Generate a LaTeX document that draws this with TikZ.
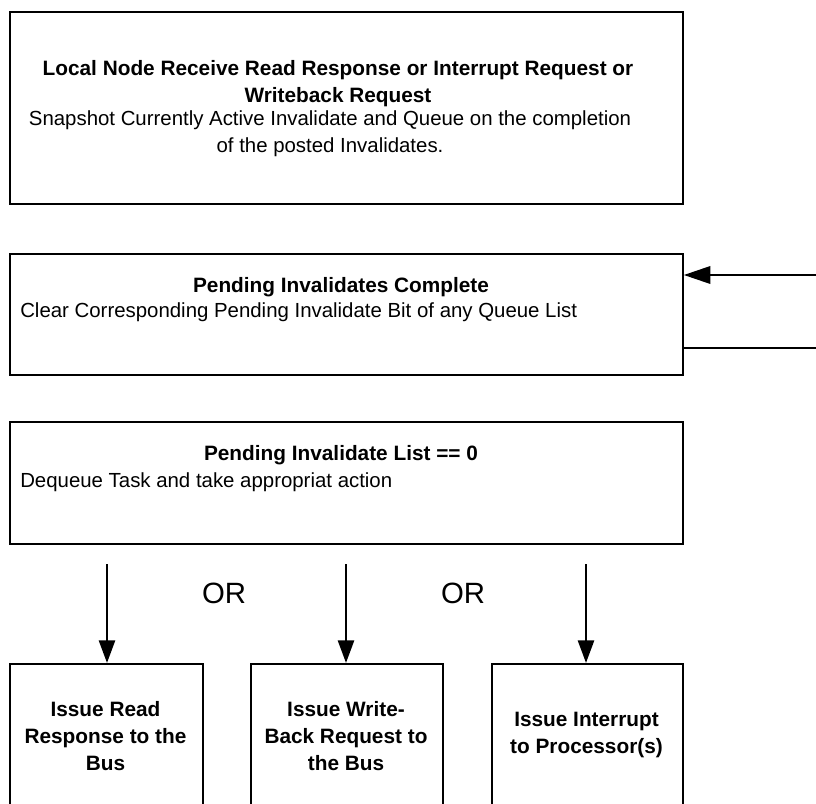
\documentclass[tikz,border=0pt]{standalone}
\usepackage{fontspec}
\setmainfont{Liberation Sans}
\usetikzlibrary{arrows.meta}
\begin{document}
\begin{tikzpicture}[x=0.75pt,y=-0.75pt,
  box/.style={draw,line width=1.3pt,rectangle,inner sep=0pt,anchor=north west},
  ttl/.style={font=\fontsize{15.6}{20.25}\selectfont\bfseries,align=center,inner sep=0pt},
  txt/.style={font=\fontsize{15.3}{20.25}\selectfont,inner sep=0pt},
  orlbl/.style={font=\fontsize{22}{26}\selectfont,inner sep=0pt},
  arr/.style={line width=2pt,-{Triangle[length=17pt,width=12pt]}},
  link/.style={line width=2pt}]
\useasboundingbox (0,0) rectangle (816,803);
\clip (0,0) rectangle (816,803);

% upper process blocks
\node[box,minimum width=673*0.75pt,minimum height=192*0.75pt] (recv) at (9,11) {};
\node[box,minimum width=673*0.75pt,minimum height=121*0.75pt] (done) at (9,253) {};
\node[box,minimum width=673*0.75pt,minimum height=122*0.75pt] (deq) at (9,421) {};

% action blocks (open towards the bottom edge)
\node[box,minimum width=193*0.75pt,minimum height=170*0.75pt] (rd) at (9,663) {};
\node[box,minimum width=192*0.75pt,minimum height=170*0.75pt] (wb) at (250,663) {};
\node[box,minimum width=191*0.75pt,minimum height=170*0.75pt] (intr) at (491,663) {};

% texts of the upper blocks
\node[ttl] (recvT) at (338,83.5) {Local Node Receive Read Response or Interrupt Request or\\Writeback Request};
\node[txt,align=center] (recvB) at (330,133.5) {Snapshot Currently Active Invalidate and Queue on the completion\\of the posted Invalidates.};
\node[ttl] (doneT) at (341,287) {Pending Invalidates Complete};
\node[txt,anchor=west] (doneB) at (20,312) {Clear Corresponding Pending Invalidate Bit of any Queue List};
\node[ttl] (deqT) at (341,455) {Pending Invalidate List == 0};
\node[txt,anchor=west] (deqB) at (20,482) {Dequeue Task and take appropriat action};

% texts of the action blocks
\node[ttl] (rdT) at (105.5,736) {Issue Read\\Response to the\\Bus};
\node[ttl] (wbT) at (346,736) {Issue Write-\\Back Request to\\the Bus};
\node[ttl] (intrT) at (586.5,735) {Issue Interrupt\\to Processor(s)};

% choice labels
\node[orlbl] (or1) at (224,593) {OR};
\node[orlbl] (or2) at (463,593) {OR};

% feedback at the right side
\coordinate (inR) at (816,275);
\coordinate (outR) at (816,348);
\draw[line width=2pt,-{Triangle[length=20pt,width=13pt]}] (inR) -- (inR -| done.east);
\draw[link] (outR -| done.east) -- (outR);

% branches to the actions
\coordinate (s1) at (107,564);
\coordinate (s2) at (346,564);
\coordinate (s3) at (586,564);
\draw[arr] (s1) -- (s1 |- rd.north);
\draw[arr] (s2) -- (s2 |- wb.north);
\draw[arr] (s3) -- (s3 |- intr.north);
\end{tikzpicture}
\end{document}
